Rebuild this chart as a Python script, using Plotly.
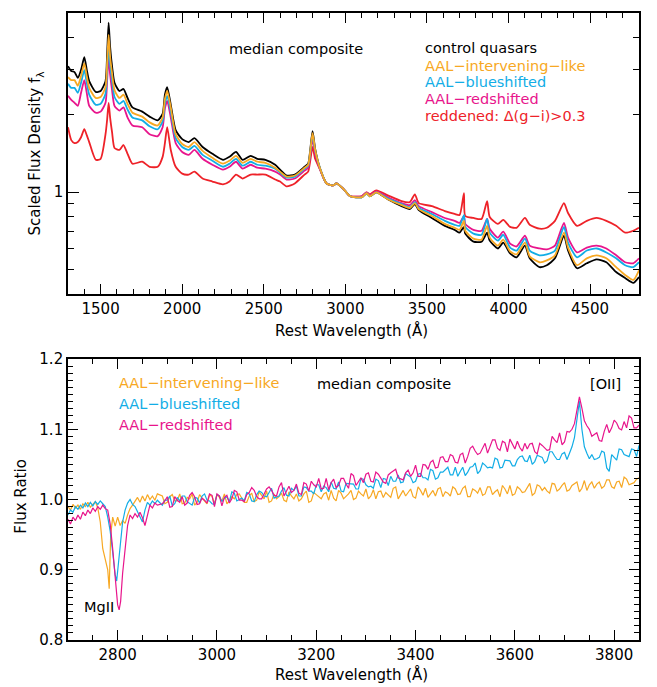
import plotly.graph_objects as go

# ---------------- top panel data (rest wavelength, scaled flux density) ----------------
lam_top = [1300, 1320, 1340, 1360, 1380, 1400, 1415, 1430, 1470, 1500,
           1530, 1540, 1549, 1558, 1570, 1585, 1615, 1640, 1665, 1695,
           1755, 1800, 1850, 1880, 1894, 1908, 1930, 1960, 2000, 2040,
           2075, 2125, 2185, 2250, 2290, 2330, 2370, 2420, 2460, 2510,
           2570, 2600, 2640, 2690, 2750, 2772, 2799, 2815, 2845, 2885,
           2925, 2945, 2985, 3030, 3100, 3130, 3150, 3190, 3260, 3345,
           3395, 3426, 3450, 3530, 3610, 3670, 3700, 3727, 3735, 3785,
           3835, 3869, 3885, 3935, 3968, 4010, 4050, 4101, 4130, 4190,
           4235, 4285, 4340, 4365, 4420, 4480, 4540, 4600, 4660, 4715,
           4765, 4800]

flux_control = [3.10, 2.97, 2.94, 2.79, 3.00, 3.36, 3.00, 2.71, 2.46, 2.48,
                2.71, 3.48, 4.58, 3.70, 3.10, 2.67, 2.48, 2.525, 2.33, 2.14,
                2.06, 1.97, 1.905, 2.02, 2.40, 2.57, 2.19, 1.743, 1.609, 1.567,
                1.623, 1.499, 1.41, 1.336, 1.372, 1.434, 1.336, 1.384, 1.348, 1.336,
                1.278, 1.223, 1.16, 1.17, 1.255, 1.29, 1.727, 1.473, 1.234, 1.08,
                1.061, 1.08, 1.033, 0.963, 0.954, 0.989, 0.963, 0.997, 0.937, 0.881,
                0.858, 0.897, 0.85, 0.792, 0.738, 0.712, 0.694, 0.731, 0.688, 0.64,
                0.64, 0.694, 0.646, 0.602, 0.635, 0.576, 0.556, 0.618, 0.551, 0.509,
                0.518, 0.551, 0.675, 0.591, 0.504, 0.527, 0.546, 0.532, 0.487, 0.4615,
                0.442, 0.466]

flux_intervening = [2.81, 2.735, 2.735, 2.60, 2.835, 3.18, 2.835, 2.55, 2.33, 2.35,
                    2.57, 3.21, 4.11, 3.39, 2.91, 2.50, 2.33, 2.40, 2.21, 2.04,
                    1.97, 1.87, 1.82, 1.955, 2.31, 2.48, 2.14, 1.682, 1.54, 1.499,
                    1.567, 1.447, 1.36, 1.29, 1.325, 1.384, 1.30, 1.348, 1.313, 1.30,
                    1.244, 1.201, 1.149, 1.16, 1.244, 1.278, 1.697, 1.46, 1.234, 1.08,
                    1.061, 1.08, 1.033, 0.963, 0.954, 0.989, 0.963, 0.997, 0.937, 0.889,
                    0.866, 0.905, 0.858, 0.806, 0.751, 0.725, 0.712, 0.772, 0.706, 0.658,
                    0.652, 0.738, 0.664, 0.618, 0.652, 0.586, 0.571, 0.635, 0.561, 0.532,
                    0.541, 0.566, 0.694, 0.607, 0.518, 0.551, 0.566, 0.551, 0.509, 0.474,
                    0.4535, 0.495]

flux_blueshifted = [2.645, 2.55, 2.55, 2.44, 2.67, 2.99, 2.67, 2.40, 2.19, 2.21,
                    2.42, 2.99, 3.73, 3.15, 2.735, 2.35, 2.21, 2.27, 2.10, 1.955,
                    1.905, 1.805, 1.758, 1.887, 2.21, 2.375, 2.06, 1.623, 1.499, 1.46,
                    1.513, 1.396, 1.325, 1.255, 1.29, 1.348, 1.267, 1.313, 1.278, 1.267,
                    1.234, 1.19, 1.139, 1.149, 1.234, 1.267, 1.667, 1.447, 1.234, 1.08,
                    1.061, 1.08, 1.033, 0.963, 0.954, 0.989, 0.963, 0.997, 0.945, 0.897,
                    0.873, 0.913, 0.866, 0.821, 0.772, 0.745, 0.738, 0.813, 0.731, 0.688,
                    0.681, 0.785, 0.694, 0.646, 0.681, 0.607, 0.591, 0.658, 0.591, 0.566,
                    0.571, 0.591, 0.731, 0.635, 0.556, 0.591, 0.602, 0.581, 0.551, 0.518,
                    0.509, 0.532]

flux_redshifted = [2.375, 2.29, 2.23, 2.17, 2.44, 2.735, 2.44, 2.17, 2.04, 2.06,
                   2.23, 2.735, 3.39, 2.885, 2.50, 2.17, 2.08, 2.14, 1.955, 1.82,
                   1.79, 1.682, 1.652, 1.79, 2.12, 2.27, 1.955, 1.553, 1.434, 1.396,
                   1.46, 1.348, 1.278, 1.223, 1.255, 1.313, 1.234, 1.278, 1.244, 1.234,
                   1.201, 1.17, 1.119, 1.129, 1.212, 1.244, 1.609, 1.41, 1.223, 1.08,
                   1.061, 1.08, 1.033, 0.963, 0.963, 0.997, 0.971, 1.006, 0.954, 0.905,
                   0.889, 0.929, 0.881, 0.835, 0.792, 0.772, 0.758, 0.806, 0.751, 0.712,
                   0.706, 0.785, 0.719, 0.664, 0.70, 0.629, 0.613, 0.675, 0.618, 0.602,
                   0.597, 0.618, 0.758, 0.664, 0.581, 0.607, 0.618, 0.602, 0.566, 0.532,
                   0.527, 0.551]

flux_reddened = [1.79, 1.595, 1.553, 1.567, 1.637, 1.76, 1.667, 1.567, 1.336, 1.348,
                 1.682, 1.92, 2.23, 1.955, 1.712, 1.486, 1.46, 1.526, 1.41, 1.29,
                 1.313, 1.255, 1.255, 1.372, 1.553, 1.79, 1.46, 1.255, 1.18, 1.17,
                 1.201, 1.129, 1.099, 1.071, 1.099, 1.17, 1.129, 1.17, 1.17, 1.17,
                 1.119, 1.099, 1.052, 1.08, 1.17, 1.201, 1.499, 1.348, 1.223, 1.08,
                 1.061, 1.08, 1.033, 0.963, 0.963, 0.997, 0.98, 1.015, 0.971, 0.921,
                 0.913, 0.98, 0.905, 0.881, 0.843, 0.821, 0.813, 0.989, 0.806, 0.792,
                 0.785, 0.921, 0.799, 0.751, 0.778, 0.731, 0.725, 0.792, 0.745, 0.719,
                 0.725, 0.772, 0.905, 0.828, 0.738, 0.772, 0.792, 0.772, 0.738, 0.694,
                 0.706, 0.725]

# ---------------- bottom panel data (flux ratio to control composite) ----------------
lam_mg_int = [2700, 2705, 2710, 2715, 2720, 2725, 2730, 2735, 2740, 2745, 2750, 2755, 2760, 2765,
              2770, 2775, 2780, 2783, 2786, 2790, 2795, 2800, 2805, 2810, 2815, 2820, 2825, 2830,
              2835, 2840, 2845, 2850, 2855, 2860, 2865, 2870, 2875, 2880]
ratio_mg_int = [0.990, 0.985, 0.993, 0.988, 0.992, 0.986, 0.994, 0.990, 0.996, 0.989, 0.993, 0.997,
                0.988, 0.968, 0.930, 0.915, 0.900, 0.873, 0.950, 0.975, 0.962, 0.975, 0.963, 0.970,
                0.966, 0.978, 0.987, 0.992, 0.997, 1.003, 0.996, 1.005, 0.998, 1.007, 1.000, 1.005,
                0.999, 1.008]

lam_mg_blue = [2700, 2705, 2710, 2715, 2720, 2725, 2730, 2735, 2740, 2745, 2750, 2755, 2760, 2765,
               2770, 2775, 2780, 2785, 2790, 2795, 2798, 2801, 2805, 2810, 2815, 2820, 2825, 2830,
               2835, 2840, 2845, 2850, 2855, 2860, 2865, 2870, 2875, 2880]
ratio_mg_blue = [0.978, 0.985, 0.982, 0.990, 0.986, 0.992, 0.988, 0.995, 0.990, 0.996, 0.991, 0.997,
                 0.993, 0.998, 0.994, 0.990, 0.975, 0.955, 0.925, 0.893, 0.884, 0.905, 0.940, 0.968,
                 0.985, 0.995, 1.000, 0.993, 0.990, 0.983, 0.975, 0.968, 0.985, 0.996, 0.992, 0.998,
                 0.994, 0.999]

lam_mg_red = [2700, 2705, 2710, 2715, 2720, 2725, 2730, 2735, 2740, 2745, 2750, 2755, 2760, 2765,
              2770, 2775, 2780, 2785, 2790, 2795, 2800, 2803, 2806, 2810, 2815, 2820, 2825, 2830,
              2835, 2840, 2845, 2850, 2855, 2860, 2865, 2870, 2875, 2880]
ratio_mg_red = [0.972, 0.965, 0.975, 0.970, 0.978, 0.972, 0.982, 0.977, 0.985, 0.980, 0.988, 0.983,
                0.990, 0.986, 0.992, 0.987, 0.985, 0.965, 0.930, 0.885, 0.850, 0.843, 0.855, 0.895,
                0.935, 0.963, 0.978, 0.973, 0.980, 0.975, 0.982, 0.974, 0.963, 0.980, 0.992, 0.988,
                0.995, 0.992]

# samples every 10 A from 2890 to 3850
lam_cont = list(range(2890, 3851, 10))
ratio_int = [1.005, 0.996, 1.007, 0.998, 0.994, 1.003, 1.008, 0.996, 1.002, 0.994,
             1.005, 1.007, 0.998, 0.994, 1.004, 1.007, 1.001, 0.996, 1.009, 0.999,
             1.006, 1.012, 0.998, 1.001, 1.009, 0.997, 1.005, 1.008, 1.001, 1.012,
             0.998, 1.007, 1.001, 1.010, 1.013, 0.998, 1.009, 1.004, 1.013, 1.002,
             1.008, 1.015, 1.005, 1.001, 1.012, 1.010, 1.003, 1.018, 1.008, 1.005,
             1.015, 1.002, 1.013, 1.016, 1.008, 1.005, 1.017, 1.011, 1.005, 1.015,
             1.008, 1.019, 1.004, 1.013, 1.017, 1.008, 1.018, 1.011, 1.004, 1.015,
             1.020, 1.008, 1.015, 1.011, 1.023, 1.009, 1.019, 1.017, 1.009, 1.022,
             1.015, 1.024, 1.014, 1.022, 1.011, 1.027, 1.021, 1.016, 1.025, 1.019,
             1.028, 1.016, 1.026, 1.032, 1.021, 1.024, 1.031]
ratio_blue = [0.992, 0.999, 0.991, 1.003, 1.005, 0.997, 0.992, 1.002, 1.005, 0.999,
              0.994, 1.007, 0.997, 1.004, 1.011, 0.998, 1.002, 1.010, 0.998, 1.007,
              1.010, 1.004, 1.016, 1.003, 1.012, 1.006, 1.016, 1.019, 1.005, 1.017,
              1.012, 1.021, 1.011, 1.017, 1.025, 1.015, 1.012, 1.023, 1.022, 1.015,
              1.030, 1.021, 1.019, 1.029, 1.017, 1.029, 1.033, 1.026, 1.024, 1.037,
              1.032, 1.026, 1.037, 1.031, 1.043, 1.029, 1.039, 1.043, 1.035, 1.046,
              1.040, 1.034, 1.046, 1.052, 1.041, 1.049, 1.046, 1.059, 1.045, 1.056,
              1.055, 1.048, 1.061, 1.055, 1.063, 1.054, 1.062, 1.052, 1.068, 1.062,
              1.057, 1.067, 1.066, 1.088, 1.140, 1.075, 1.058, 1.057, 1.060, 1.067,
              1.040, 1.060, 1.072, 1.064, 1.061, 1.071, 1.077]
ratio_red = [0.994, 1.004, 0.990, 0.999, 1.004, 0.995, 1.010, 0.993, 1.002, 0.995,
             1.006, 1.008, 0.991, 1.006, 1.001, 1.011, 0.999, 1.007, 1.017, 1.004,
             1.001, 1.015, 1.013, 1.005, 1.024, 1.013, 1.010, 1.022, 1.007, 1.022,
             1.026, 1.018, 1.015, 1.030, 1.024, 1.017, 1.030, 1.022, 1.037, 1.020,
             1.031, 1.036, 1.026, 1.039, 1.031, 1.023, 1.038, 1.043, 1.030, 1.038,
             1.033, 1.049, 1.033, 1.049, 1.053, 1.045, 1.060, 1.054, 1.064, 1.053,
             1.064, 1.052, 1.073, 1.069, 1.066, 1.080, 1.076, 1.085, 1.070, 1.081,
             1.086, 1.072, 1.074, 1.080, 1.079, 1.068, 1.080, 1.073, 1.071, 1.085,
             1.095, 1.082, 1.096, 1.108, 1.146, 1.112, 1.100, 1.092, 1.084, 1.097,
             1.095, 1.113, 1.101, 1.111, 1.119, 1.102, 1.106]

# intermediate samples every 10 A from 2895 to 3845
lam_mid = list(range(2895, 3846, 10))
ratio_int_mid = [0.994, 1.004, 0.998, 1.008, 0.995, 1.001, 0.992, 1.007, 0.998, 1.006,
                 0.994, 1.003, 1.008, 0.998, 1.001, 1.008, 0.996, 1.005, 0.997, 1.011,
                 1.001, 0.996, 1.008, 1.004, 0.999, 1.011, 1.001, 0.998, 1.008, 0.996,
                 1.010, 1.004, 1.008, 0.999, 1.002, 1.013, 1.001, 1.008, 1.000, 1.012,
                 1.005, 1.001, 1.014, 1.011, 1.003, 1.007, 1.016, 1.001, 1.013, 1.011,
                 1.004, 1.018, 1.006, 1.003, 1.013, 1.015, 1.004, 1.009, 1.018, 1.007,
                 1.016, 1.004, 1.015, 1.009, 1.006, 1.018, 1.007, 1.014, 1.020, 1.008,
                 1.006, 1.018, 1.010, 1.018, 1.006, 1.021, 1.013, 1.012, 1.023, 1.012,
                 1.020, 1.012, 1.020, 1.025, 1.016, 1.013, 1.025, 1.022, 1.016, 1.028,
                 1.018, 1.025, 1.017, 1.029, 1.022, 1.029]
ratio_blue_mid = [0.999, 1.005, 0.994, 0.998, 1.005, 0.994, 1.003, 0.995, 1.008, 0.998,
                  0.993, 1.005, 1.002, 0.997, 1.009, 1.000, 0.998, 1.008, 0.997, 1.012,
                  1.005, 1.010, 1.002, 1.005, 1.017, 1.005, 1.013, 1.005, 1.018, 1.012,
                  1.008, 1.021, 1.019, 1.011, 1.016, 1.025, 1.011, 1.023, 1.022, 1.015,
                  1.029, 1.018, 1.016, 1.027, 1.030, 1.020, 1.026, 1.035, 1.025, 1.035,
                  1.024, 1.036, 1.031, 1.028, 1.041, 1.031, 1.039, 1.046, 1.035, 1.033,
                  1.046, 1.039, 1.047, 1.037, 1.052, 1.045, 1.045, 1.057, 1.046, 1.055,
                  1.048, 1.057, 1.062, 1.054, 1.050, 1.063, 1.060, 1.055, 1.068, 1.057,
                  1.065, 1.057, 1.075, 1.112, 1.100, 1.066, 1.064, 1.058, 1.069, 1.045,
                  1.064, 1.056, 1.071, 1.063, 1.072, 1.061]
ratio_red_mid = [0.998, 0.989, 1.004, 0.996, 0.992, 1.006, 1.004, 0.994, 0.999, 1.008,
                 0.990, 1.005, 1.003, 0.995, 1.013, 0.999, 0.997, 1.010, 1.013, 1.001,
                 1.008, 1.018, 1.006, 1.018, 1.005, 1.019, 1.013, 1.009, 1.024, 1.012,
                 1.021, 1.030, 1.016, 1.014, 1.029, 1.020, 1.030, 1.016, 1.034, 1.026,
                 1.024, 1.038, 1.025, 1.036, 1.025, 1.035, 1.041, 1.031, 1.028, 1.042,
                 1.038, 1.033, 1.050, 1.043, 1.056, 1.046, 1.061, 1.054, 1.062, 1.052,
                 1.066, 1.061, 1.076, 1.064, 1.074, 1.066, 1.085, 1.073, 1.083, 1.068,
                 1.078, 1.083, 1.069, 1.072, 1.080, 1.065, 1.077, 1.070, 1.090, 1.081,
                 1.078, 1.097, 1.100, 1.128, 1.130, 1.105, 1.090, 1.095, 1.083, 1.107,
                 1.102, 1.109, 1.099, 1.102, 1.116, 1.102]


def merge(lam_a, val_a, lam_b, val_b):
    pairs = sorted(zip(lam_a + lam_b, val_a + val_b))
    return [p[0] for p in pairs], [p[1] for p in pairs]


# ---------------- styling ----------------
C_BLACK = "#000000"
C_ORANGE = "#F7A823"
C_BLUE = "#12ADE6"
C_MAGENTA = "#E8158C"
C_RED = "#EE2229"
FONT = "DejaVu Sans"

fig = go.Figure()

top = [(flux_control, C_BLACK), (flux_reddened, C_RED), (flux_redshifted, C_MAGENTA),
       (flux_blueshifted, C_BLUE), (flux_intervening, C_ORANGE)]
for vals, col in top:
    fig.add_trace(go.Scatter(x=lam_top, y=vals, mode="lines",
                             line=dict(color=col, width=1.8, shape="spline", smoothing=0.6),
                             xaxis="x", yaxis="y", showlegend=False, hoverinfo="skip"))

x_i, y_i = merge(lam_mg_int + lam_cont, ratio_mg_int + ratio_int, lam_mid, ratio_int_mid)
x_b, y_b = merge(lam_mg_blue + lam_cont, ratio_mg_blue + ratio_blue, lam_mid, ratio_blue_mid)
x_r, y_r = merge(lam_mg_red + lam_cont, ratio_mg_red + ratio_red, lam_mid, ratio_red_mid)
for xs, ys, col in [(x_i, y_i, C_ORANGE), (x_b, y_b, C_BLUE), (x_r, y_r, C_MAGENTA)]:
    fig.add_trace(go.Scatter(x=xs, y=ys, mode="lines", line=dict(color=col, width=1.2),
                             xaxis="x2", yaxis="y2", showlegend=False, hoverinfo="skip"))

axis_common = dict(showline=True, linecolor="black", linewidth=1.6, mirror="allticks",
                   ticks="inside", tickcolor="black", tickwidth=1.2, showgrid=False,
                   zeroline=False, tickfont=dict(family=FONT, size=15, color="black"))

fig.update_layout(
    width=657, height=687,
    margin=dict(l=68, r=18, t=4, b=47),
    paper_bgcolor="white", plot_bgcolor="white",
    xaxis=dict(domain=[0, 1], anchor="y", range=[1300, 4800], tick0=0, dtick=500, ticklen=10,
               minor=dict(dtick=100, tick0=0, ticklen=5, ticks="inside", tickcolor="black", tickwidth=1.2),
               **axis_common),
    yaxis=dict(domain=[0.5519, 1], anchor="x", type="log", range=[-0.39794, 0.69897],
               tickmode="array", tickvals=[1], ticktext=["1"], ticklen=11,
               minor=dict(tickmode="array", tickvals=[0.5, 0.6, 0.7, 0.8, 0.9, 2, 3, 4],
                          ticklen=6, ticks="inside", tickcolor="black", tickwidth=1.2),
               **axis_common),
    xaxis2=dict(domain=[0, 1], anchor="y2", range=[2700, 3850], tick0=0, dtick=200, ticklen=10,
                minor=dict(dtick=50, tick0=0, ticklen=5, ticks="inside", tickcolor="black", tickwidth=1.2),
                **axis_common),
    yaxis2=dict(domain=[0, 0.4481], anchor="x2", range=[0.8, 1.2], tick0=0.8, dtick=0.1,
                tickformat=".1f", ticklen=10,
                minor=dict(dtick=0.01, tick0=0.8, ticklen=5, ticks="inside", tickcolor="black", tickwidth=1.2),
                **axis_common),
)


def ann(text, x, y, color="black", xanchor="left", size=15, angle=0):
    fig.add_annotation(text=text, x=x, y=y, xref="paper", yref="paper", showarrow=False,
                       xanchor=xanchor, yanchor="middle", textangle=angle, borderpad=0,
                       font=dict(family=FONT, size=size, color=color))


# axis titles
ann("Rest Wavelength (Å)", 0.497, 0.4937, xanchor="center")
ann("Rest Wavelength (Å)", 0.497, -0.055, xanchor="center")
ann("Scaled Flux Density f<sub>λ</sub>", -0.057, 0.7767, xanchor="center", angle=-90)
ann("Flux Ratio", -0.083, 0.228, xanchor="center", angle=-90)

# top panel labels
LS = 14.5
ann("median composite", 0.2802, 0.9418, size=LS)
ann("control quasars", 0.6235, 0.9434, C_BLACK, size=LS)
ann("AAL−intervening−like", 0.6235, 0.9156, C_ORANGE, size=LS)
ann("AAL−blueshifted", 0.6235, 0.8895, C_BLUE, size=LS)
ann("AAL−redshifted", 0.6235, 0.8621, C_MAGENTA, size=LS)
ann("reddened: Δ(g−i)>0.3", 0.6235, 0.836, C_RED, size=LS)

# bottom panel labels
ann("AAL−intervening−like", 0.0876, 0.4104, C_ORANGE, size=LS)
ann("AAL−blueshifted", 0.0876, 0.3758, C_BLUE, size=LS)
ann("AAL−redshifted", 0.0876, 0.3428, C_MAGENTA, size=LS)
ann("median composite", 0.4343, 0.4088, size=LS)
ann("[OII]", 0.9124, 0.4088, size=LS)
ann("MgII", 0.0263, 0.0519, size=LS)

fig.write_html("out.html")
